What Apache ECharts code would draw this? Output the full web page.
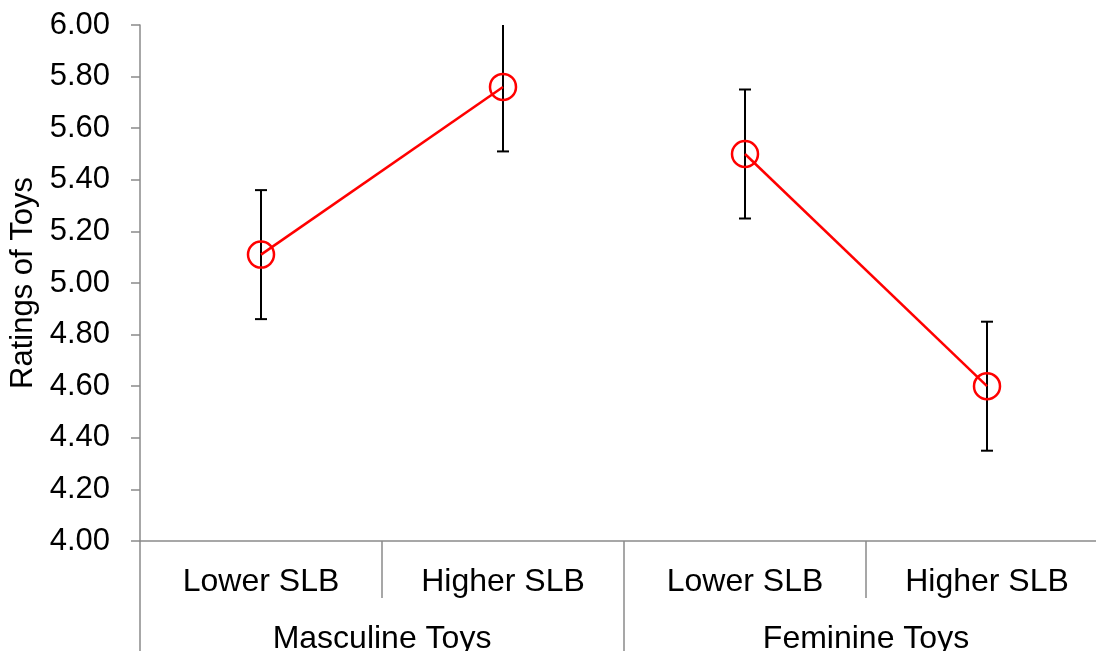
<!DOCTYPE html>
<html>
<head>
<meta charset="utf-8">
<script src="https://cdn.jsdelivr.net/npm/echarts@6/dist/echarts.min.js"></script>
<style>
html,body{margin:0;padding:0;background:#fff;}
#chart{width:1096px;height:651px;}
</style>
</head>
<body>
<div id="chart"></div>
<script>
const levels = ['Lower SLB', 'Higher SLB', 'Lower SLB', 'Higher SLB'];
const groups = ['Masculine Toys', 'Feminine Toys'];
const masculine = [5.11, 5.76, null, null];
const feminine = [null, null, 5.50, 4.60];
const means = [5.11, 5.76, 5.50, 4.60];
const errors = [0.25, 0.25, 0.25, 0.25];
const yTicks = { min: 4.0, max: 6.0, interval: 0.2 };

const FONT = 'Liberation Sans, Arial, sans-serif';
const AXIS_GRAY = '#8a8a8a';

const errData = means.map((m, i) => [i, m - errors[i], m + errors[i]]);

const chart = echarts.init(document.getElementById('chart'));
chart.setOption({
  animation: false,
  backgroundColor: '#fff',
  grid: { left: 140, top: 25, bottom: 110, width: 968, containLabel: false, outerBoundsMode: 'none' },
  xAxis: [
    {
      type: 'category', data: levels, position: 'bottom',
      boundaryGap: true,
      axisLine: { show: true, lineStyle: { color: AXIS_GRAY, width: 1.5 } },
      axisTick: { show: true, length: 57, lineStyle: { color: AXIS_GRAY, width: 1.5 } },
      axisLabel: { color: '#000', fontSize: 32, fontFamily: FONT, margin: 25 },
      splitLine: { show: false }
    },
    {
      type: 'category', data: groups, position: 'bottom',
      boundaryGap: true,
      axisLine: { show: false },
      axisTick: { show: true, length: 130, lineStyle: { color: AXIS_GRAY, width: 1.5 } },
      axisLabel: { color: '#000', fontSize: 32, fontFamily: FONT, margin: 82 },
      splitLine: { show: false }
    }
  ],
  yAxis: {
    type: 'value', min: yTicks.min, max: yTicks.max, interval: yTicks.interval,
    name: 'Ratings of Toys', nameLocation: 'middle', nameGap: 96,
    nameTextStyle: { color: '#000', fontSize: 31, fontFamily: FONT },
    axisLine: { show: true, lineStyle: { color: AXIS_GRAY, width: 1.5 } },
    axisTick: { show: true, length: 9, lineStyle: { color: AXIS_GRAY, width: 1.5 } },
    axisLabel: { color: '#000', fontSize: 31, fontFamily: FONT, margin: 30,
      formatter: v => v.toFixed(2) },
    splitLine: { show: false }
  },
  series: [
    {
      type: 'custom', name: 'error', xAxisIndex: 0, clip: true, z: 1,
      data: errData,
      renderItem: function (params, api) {
        const x = api.value(0);
        const lo = api.coord([x, api.value(1)]);
        const hi = api.coord([x, api.value(2)]);
        const cap = 6;
        const style = { stroke: '#000', lineWidth: 2 };
        return {
          type: 'group',
          children: [
            { type: 'line', shape: { x1: lo[0], y1: lo[1], x2: hi[0], y2: hi[1] }, style },
            { type: 'line', shape: { x1: lo[0] - cap, y1: lo[1], x2: lo[0] + cap, y2: lo[1] }, style },
            { type: 'line', shape: { x1: hi[0] - cap, y1: hi[1], x2: hi[0] + cap, y2: hi[1] }, style }
          ]
        };
      }
    },
    {
      type: 'line', name: 'Masculine', xAxisIndex: 0, data: masculine, z: 3,
      symbol: 'circle', symbolSize: 26, showAllSymbol: true, connectNulls: false,
      lineStyle: { color: '#ff0000', width: 2.5 },
      itemStyle: { color: 'rgba(255,255,255,0)', borderColor: '#ff0000', borderWidth: 2.5 }
    },
    {
      type: 'line', name: 'Feminine', xAxisIndex: 0, data: feminine, z: 3,
      symbol: 'circle', symbolSize: 26, showAllSymbol: true, connectNulls: false,
      lineStyle: { color: '#ff0000', width: 2.5 },
      itemStyle: { color: 'rgba(255,255,255,0)', borderColor: '#ff0000', borderWidth: 2.5 }
    }
  ]
});
</script>
</body>
</html>
